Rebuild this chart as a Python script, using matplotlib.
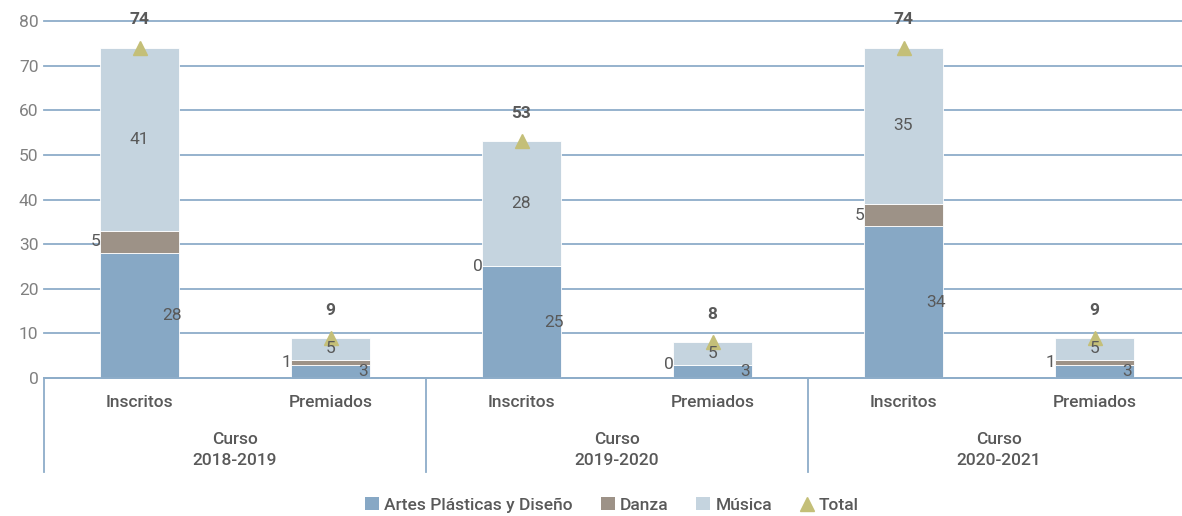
import matplotlib
matplotlib.use("Agg")
import matplotlib.pyplot as plt
from matplotlib.lines import Line2D
from matplotlib.patches import Patch
import matplotlib.transforms as mtransforms

plt.rcParams['font.family'] = ['Roboto', 'DejaVu Sans']

# ---- data ----
subcats = ['Inscritos', 'Premiados', 'Inscritos', 'Premiados', 'Inscritos', 'Premiados']
cursos = ['Curso\n2018-2019', 'Curso\n2019-2020', 'Curso\n2020-2021']
artes = [28, 3, 25, 3, 34, 3]
danza = [5, 1, 0, 0, 5, 1]
musica = [41, 5, 28, 5, 35, 5]
total = [74, 9, 53, 8, 74, 9]
series_names = ['Artes Plásticas y Diseño', 'Danza', 'Música', 'Total']
yticks = [0, 10, 20, 30, 40, 50, 60, 70, 80]

c_artes = '#87a8c5'
c_danza = '#9d9287'
c_musica = '#c5d4df'
c_total = '#c4bf78'
c_grid = '#8eadc9'
c_text = '#595959'
c_tick = '#808080'

W, H = 1182, 516
fig = plt.figure(figsize=(W / 100, H / 100), dpi=100)
ax = fig.add_axes([44 / W, (H - 378) / H, (1190 - 44) / W, 357 / H])

x = list(range(len(subcats)))
bw = 0.41
ax.bar(x, artes, bw, color=c_artes, edgecolor='white', linewidth=0.6, zorder=2)
bottom2 = artes
ax.bar(x, danza, bw, bottom=bottom2, color=c_danza, edgecolor='white', linewidth=0.6, zorder=2)
bottom3 = [a + d for a, d in zip(artes, danza)]
ax.bar(x, musica, bw, bottom=bottom3, color=c_musica, edgecolor='white', linewidth=0.6, zorder=2)
ax.plot(x, total, linestyle='none', marker='^', markersize=10, color=c_total, zorder=4)

fs = 12.5
for i in x:
    ax.text(i + 0.17, artes[i] / 2, str(artes[i]), ha='center', va='center', color=c_text, fontsize=fs, zorder=5)
    ax.text(i - 0.23, artes[i] + danza[i] / 2, str(danza[i]), ha='center', va='center', color=c_text, fontsize=fs, zorder=5)
    ax.text(i, bottom3[i] + musica[i] / 2, str(musica[i]), ha='center', va='center', color=c_text, fontsize=fs, zorder=5)
    ax.annotate(str(total[i]), (i, total[i]), xytext=(0, 20), textcoords='offset points',
                ha='center', va='center', color=c_text, fontsize=fs, fontweight='bold', zorder=5)

ax.set_xlim(-0.5, len(subcats) - 0.5)
ax.set_ylim(0, 80)
ax.set_yticks(yticks)
ax.yaxis.grid(True, color=c_grid, linewidth=1.3, zorder=0)
ax.set_axisbelow(True)
for gl in ax.get_ygridlines():
    gl.set_clip_on(False)
for s in ['top', 'right', 'left', 'bottom']:
    ax.spines[s].set_visible(False)
ax.axhline(0, color=c_grid, linewidth=1.3, zorder=3, clip_on=False)
ax.tick_params(axis='y', length=0, pad=4, labelcolor=c_tick, labelsize=fs)
ax.set_xticks(x)
ax.set_xticklabels(subcats, fontweight='medium')
ax.tick_params(axis='x', length=0, pad=12, labelcolor=c_text, labelsize=fs)

trans = mtransforms.blended_transform_factory(ax.transData, ax.transAxes)
for k, c in enumerate(cursos):
    ax.text(2 * k + 0.5, -(450 - 378) / 357, c, transform=trans, ha='center', va='center',
            color=c_text, fontsize=fs, fontweight='medium', linespacing=1.5)
for xs in [-0.5, 1.5, 3.5]:
    ax.add_line(Line2D([xs, xs], [0, -(472 - 378) / 357], transform=trans, color=c_grid,
                       linewidth=1.3, clip_on=False))

handles = [Patch(facecolor=c_artes), Patch(facecolor=c_danza), Patch(facecolor=c_musica),
           Line2D([], [], linestyle='none', marker='^', markersize=10, color=c_total)]
leg = fig.legend(handles, series_names, loc='center', bbox_to_anchor=(612 / W, 1 - 505 / H), ncol=4,
                 frameon=False, fontsize=fs, handlelength=0.8, handleheight=0.8, handletextpad=0.3,
                 columnspacing=1.6, prop={'size': fs, 'weight': 'medium'})
for t in leg.get_texts():
    t.set_color(c_text)

fig.savefig('out.png', dpi=100)
